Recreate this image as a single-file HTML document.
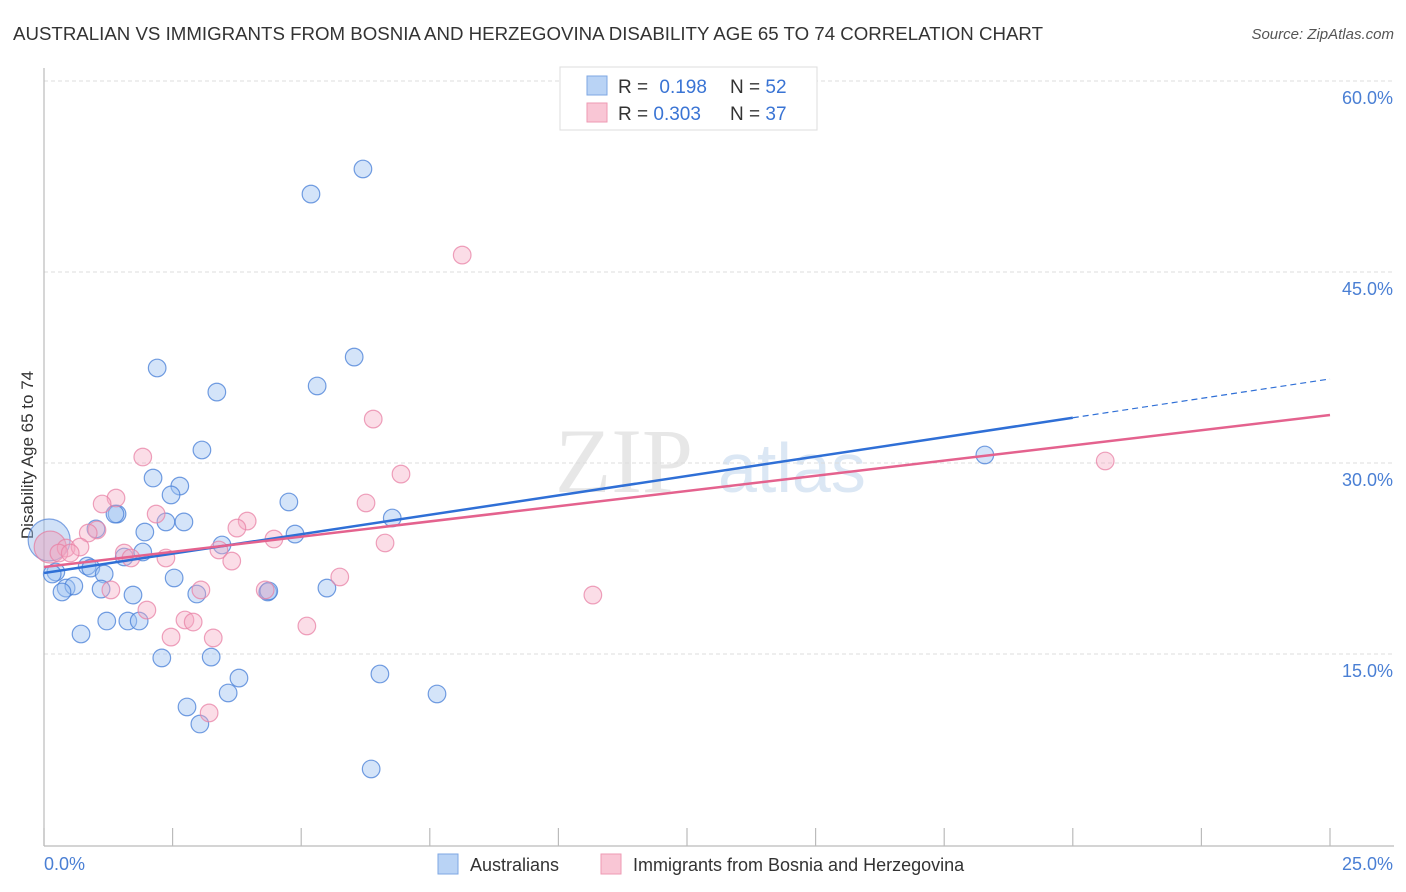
<!DOCTYPE html>
<html><head><meta charset="utf-8"><style>
html,body{margin:0;padding:0;background:#fff;}
svg{display:block;font-family:"Liberation Sans",sans-serif;}
</style></head><body>
<svg id="chart" width="1406" height="892" viewBox="0 0 1406 892">
<text x="13" y="40" font-size="18" fill="#333" textLength="1030" lengthAdjust="spacingAndGlyphs">AUSTRALIAN VS IMMIGRANTS FROM BOSNIA AND HERZEGOVINA DISABILITY AGE 65 TO 74 CORRELATION CHART</text>
<text x="1394" y="39" font-size="15" fill="#555" font-style="italic" text-anchor="end">Source: ZipAtlas.com</text>
<g opacity="0.5">
<text x="555" y="492" font-size="92" font-family="Liberation Serif,serif" fill="#d0d0d0">ZIP</text>
<text x="718" y="492" font-size="70" fill="#b9d0ea">atlas</text>
</g>
<g id="grid"></g>
<line x1="44" y1="68" x2="44" y2="846" stroke="#bbb" stroke-width="1.2"/>
<line x1="44" y1="846" x2="1394" y2="846" stroke="#bbb" stroke-width="1.2"/>
<g id="xticks"></g>
<g id="ylabels"></g>
<text x="33" y="455" font-size="17" fill="#333" text-anchor="middle" transform="rotate(-90 33 455)">Disability Age 65 to 74</text>
<text x="44" y="870" font-size="18" fill="#4a7fd4">0.0%</text>
<text x="1393" y="870" font-size="18" fill="#4a7fd4" text-anchor="end">25.0%</text>
<g id="pts"></g>
<g id="trends"></g>
<g>
<rect x="560" y="67" width="257" height="63" fill="#fff" stroke="#ddd"/>
<rect x="587" y="76" width="20" height="19" fill="#b9d3f5" stroke="#7ea7e3"/>
<rect x="587" y="103" width="20" height="19" fill="#f9c6d5" stroke="#ee9ab3"/>
<text x="618" y="93" font-size="19" fill="#333">R = <tspan fill="#3a74d4" dx="6">0.198</tspan></text>
<text x="730" y="93" font-size="19" fill="#333">N = <tspan fill="#3a74d4">52</tspan></text>
<text x="618" y="120" font-size="19" fill="#333">R = <tspan fill="#3a74d4">0.303</tspan></text>
<text x="730" y="120" font-size="19" fill="#333">N = <tspan fill="#3a74d4">37</tspan></text>
</g>
<g>
<rect x="438" y="854" width="20" height="20" fill="#b9d3f5" stroke="#7ea7e3"/>
<text x="470" y="871" font-size="18" fill="#333">Australians</text>
<rect x="601" y="854" width="20" height="20" fill="#f9c6d5" stroke="#ee9ab3"/>
<text x="633" y="871" font-size="18" fill="#333">Immigrants from Bosnia and Herzegovina</text>
</g>
</svg>
<script>
const yTicks = [15, 30, 45, 60];
const yTickLabels = ["15.0%", "30.0%", "45.0%", "60.0%"];
const xTicks = [0,2.5,5,7.5,10,12.5,15,17.5,20,22.5,25];
const blueX = [6.20,5.19,6.03,2.20,5.31,3.36,3.07,2.12,2.64,2.47,1.42,1.38,1.01,2.72,2.37,6.77,4.76,4.88,1.96,1.92,3.46,1.56,0.84,0.91,0.23,0.16,1.17,2.53,0.43,0.58,0.35,1.11,1.73,2.97,4.35,5.50,4.37,0.72,1.22,1.63,1.85,2.29,3.25,3.79,6.53,3.58,7.64,2.78,3.03,6.36,18.29];
const blueY = [53.09,51.12,38.32,37.46,36.05,35.57,31.02,28.82,28.19,27.49,25.99,25.99,24.82,25.37,25.37,25.68,26.94,24.42,24.58,23.01,23.56,22.62,21.91,21.75,21.44,21.28,21.28,20.97,20.18,20.34,19.87,20.10,19.63,19.71,19.87,20.18,19.95,16.57,17.59,17.59,17.59,14.69,14.76,13.11,13.43,11.94,11.86,10.84,9.50,5.97,30.63];
const blueBigX = [0.10];
const blueBigY = [23.95];
const pinkX = [8.13,6.40,1.92,6.94,20.63,1.40,1.13,6.26,2.18,3.95,3.75,1.03,0.86,0.43,0.70,0.29,0.51,1.56,4.47,1.69,3.40,3.65,2.37,6.63,1.30,3.05,4.30,5.75,2.00,2.74,2.90,5.11,2.47,3.29,10.67,3.21];
const pinkY = [46.33,33.45,30.47,29.13,30.16,27.25,26.78,26.86,25.99,25.44,24.89,24.74,24.50,23.32,23.40,22.93,22.93,22.93,24.03,22.54,23.17,22.30,22.54,23.72,20.03,20.03,20.03,21.05,18.45,17.67,17.51,17.20,16.33,16.26,19.63,10.37];
const pinkBigX = [0.12];
const pinkBigY = [23.40];
const blueTrend = [21.36, 36.6];
const pinkTrend = [21.83, 33.77];
const blueSolidEnd = 20;

const NS = "http://www.w3.org/2000/svg";
const xs = v => 44 + v * (1330 - 44) / 25;
const ys = v => 845 - v * 191 / 15;
function mk(tag, attrs, parent) {
  const e = document.createElementNS(NS, tag);
  for (const k in attrs) e.setAttribute(k, attrs[k]);
  parent.appendChild(e);
  return e;
}
const grid = document.getElementById('grid');
const yl = document.getElementById('ylabels');
yTicks.forEach((t, i) => {
  const l = mk('line', {x1:44, x2:1394, y1:ys(t), y2:ys(t), stroke:'#ddd', 'stroke-dasharray':'4,3'}, grid);
  
  
  const tx = mk('text', {x:1393, y:ys(t)+23, 'font-size':18, fill:'#4a7fd4', 'text-anchor':'end'}, yl);
  tx.textContent = yTickLabels[i];
  
  
});
const xt = document.getElementById('xticks');
xTicks.forEach(t => {
  const l = mk('line', {x1:xs(t), x2:xs(t), y1:828, y2:846, stroke:'#bbb', 'stroke-width':1.2}, xt);
  
  
});
const pts = document.getElementById('pts');
function dots(X, Y, r, fill, stroke, name) {
  X.forEach((x, i) => {
    const c = mk('circle', {cx:xs(x), cy:ys(Y[i]), r:r, fill:fill, stroke:stroke, 'stroke-width':1.2}, pts);
    
    
  });
}
dots(blueBigX, blueBigY, 21, 'rgba(150,188,238,0.45)', 'rgba(80,130,215,0.7)', 'australians-point-large');
dots(pinkBigX, pinkBigY, 16, 'rgba(240,160,185,0.45)', 'rgba(230,120,155,0.7)', 'bosnia-point-large');
dots(blueX, blueY, 8.8, 'rgba(160,196,242,0.45)', 'rgba(70,125,215,0.75)', 'australians-point');
dots(pinkX, pinkY, 8.8, 'rgba(246,170,195,0.4)', 'rgba(232,130,165,0.75)', 'bosnia-point');
const tr = document.getElementById('trends');
const by = x => blueTrend[0] + (blueTrend[1] - blueTrend[0]) * x / 25;
const l1 = mk('line', {x1:xs(0), y1:ys(by(0)), x2:xs(blueSolidEnd), y2:ys(by(blueSolidEnd)), stroke:'#2f6fd6', 'stroke-width':2.5}, tr);


const l2 = mk('line', {x1:xs(blueSolidEnd), y1:ys(by(blueSolidEnd)), x2:xs(25), y2:ys(by(25)), stroke:'#2f6fd6', 'stroke-width':1.2, 'stroke-dasharray':'6,4'}, tr);


const l3 = mk('line', {x1:xs(0), y1:ys(pinkTrend[0]), x2:xs(25), y2:ys(pinkTrend[1]), stroke:'#e4628e', 'stroke-width':2.5}, tr);


</script>
</body></html>
